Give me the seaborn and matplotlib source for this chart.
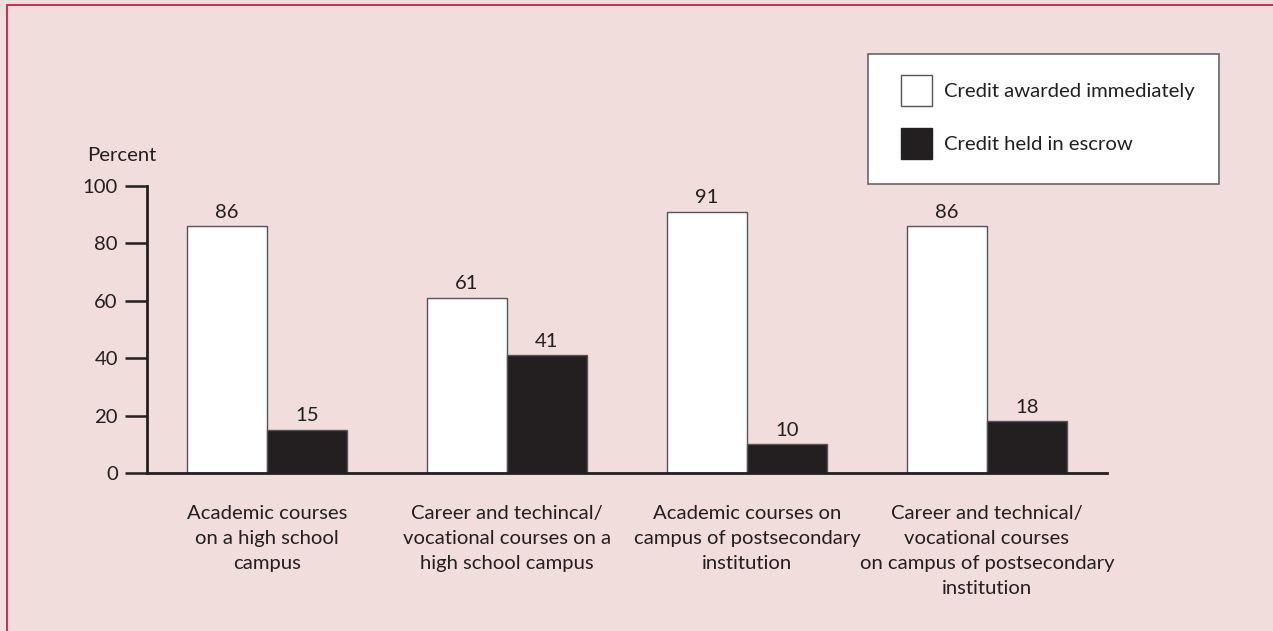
import matplotlib
matplotlib.use("Agg")
import matplotlib.pyplot as plt
import seaborn as sns
import pandas as pd
from matplotlib.patches import Rectangle
from matplotlib.lines import Line2D

# data
categories = [
    "Academic courses\non a high school\ncampus",
    "Career and techincal/\nvocational courses on a\nhigh school campus",
    "Academic courses on\ncampus of postsecondary\ninstitution",
    "Career and technical/\nvocational courses\non campus of postsecondary\ninstitution",
]
series = ["Credit awarded immediately", "Credit held in escrow"]
immediate = [86, 61, 91, 86]
escrow = [15, 41, 10, 18]
y_ticks = [0, 20, 40, 60, 80, 100]

BG = "#f1dddc"
INK = "#231f20"
BORDER = "#b8395d"
FS = 14.6

df = pd.DataFrame({
    "category": categories * 2,
    "series": [series[0]] * 4 + [series[1]] * 4,
    "value": immediate + escrow,
})

sns.set_style("white")
plt.rcParams["font.family"] = ["Lato", "DejaVu Sans"]
plt.rcParams["text.color"] = INK

W, H = 1273, 631
fig = plt.figure(figsize=(W / 100, H / 100), dpi=100, facecolor=BG)
ax = fig.add_axes([147 / W, 1 - 473 / H, (1107 - 147) / W, (473 - 186) / H])
ax.set_facecolor(BG)

sns.barplot(data=df, x="category", y="value", hue="series", order=categories,
            hue_order=series, palette=["white", INK], width=2 / 3, gap=0,
            edgecolor="#555555", linewidth=1, saturation=1, ax=ax)

for cont in ax.containers:
    ax.bar_label(cont, fmt="%d", padding=4, fontsize=FS, color=INK)

ax.set_xlim(-0.5, 3.5)
ax.set_ylim(0, 100)
ax.set_yticks(y_ticks)
ax.set_xlabel("")
ax.set_ylabel("")
ax.tick_params(axis="y", length=16, width=1.8, color=INK, pad=5,
               labelsize=FS, labelcolor=INK, left=True)
ax.tick_params(axis="x", length=0, pad=23, labelsize=FS, labelcolor=INK)
for lab in ax.get_xticklabels():
    lab.set_linespacing(1.57)
    lab.set_verticalalignment("top")

sns.despine(ax=ax, top=True, right=True)
for side in ["left", "bottom"]:
    ax.spines[side].set_color(INK)
    ax.spines[side].set_linewidth(2)
ax.spines["left"].set_zorder(5)

ax.text(-0.0625, 1.105, "Percent", transform=ax.transAxes, ha="left",
        va="center", fontsize=FS, color=INK)

# legend: box drawn separately, entries placed inside
if ax.get_legend() is not None:
    ax.get_legend().remove()
fig.patches.append(Rectangle((868 / W, 1 - 184 / H), (1219 - 868) / W,
                             (184 - 54) / H, transform=fig.transFigure,
                             facecolor="white", edgecolor="#666666", lw=1.2))
handles = [Rectangle((0, 0), 1, 1, facecolor="white", edgecolor="#555555", lw=1),
           Rectangle((0, 0), 1, 1, facecolor=INK, edgecolor=INK, lw=1)]
fig.legend(handles, series, loc="upper left",
           bbox_to_anchor=(901 / W, 1 - 75 / H), frameon=False, fontsize=FS,
           handlelength=1.55, handleheight=1.95, handletextpad=0.55,
           labelspacing=1.1, borderpad=0, borderaxespad=0)

# border on top and left edge
fig.add_artist(Line2D([7 / W, 7 / W], [0, 1 - 5 / H], transform=fig.transFigure,
                      color=BORDER, lw=1.5))
fig.add_artist(Line2D([7 / W, 1], [1 - 5 / H, 1 - 5 / H], transform=fig.transFigure,
                      color=BORDER, lw=1.5))

fig.savefig("out.png", dpi=100, facecolor=BG)
